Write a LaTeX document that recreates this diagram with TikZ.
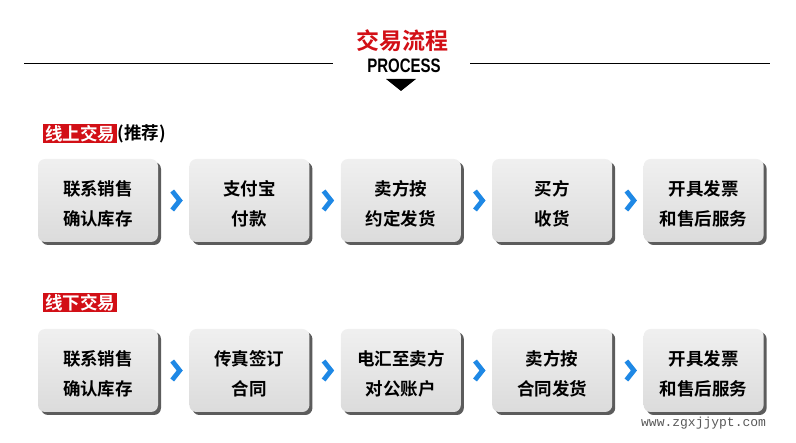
\documentclass[tikz,border=0pt]{standalone}
\usepackage{fontspec}
\usepackage{graphicx}
\setmainfont{Noto Sans CJK SC}[BoldFont={Noto Sans CJK SC Bold}]
\newfontfamily\procfont{Liberation Sans Bold}[FakeStretch=0.77]
\newfontfamily\webfont{Liberation Mono}
\usetikzlibrary{positioning,calc,shadows}
\definecolor{tradered}{HTML}{D20F16}
\definecolor{chevblue}{HTML}{1E88E5}
\tikzset{stepbox/.style={rounded corners=7pt, top color=black!6, bottom color=black!14,
    minimum width=120pt, minimum height=83pt, align=center, inner sep=0pt, text height=52pt,
    font=\bfseries\fontsize{17.5}{30}\selectfont,
    drop shadow={shadow xshift=3pt, shadow yshift=-3pt, fill=black!75, opacity=0.85}},
  tag/.style={fill=tradered, text=white, inner xsep=2pt, inner ysep=0pt, minimum height=19pt,
    font=\bfseries\fontsize{17.5}{19}\selectfont},
  chev/.style={draw=chevblue, line width=4.8pt, line join=miter}}

\begin{document}
\begin{tikzpicture}[x=1pt,y=-1pt, node distance=31pt]
    \useasboundingbox (0,0) rectangle (796,443);
    % heading
    \node[text=tradered, font=\bfseries\fontsize{23}{23}\selectfont] (title) at (402,41) {交易流程};
    \node[font=\procfont\fontsize{19.5}{20}\selectfont] (proc) at (404,66) {PROCESS};
    \coordinate (l1) at (24,64);  \coordinate (l2) at (333,64);
    \coordinate (r1) at (470,64); \coordinate (r2) at (770,64);
    \draw[line width=1pt] (l1) -- (l2);
    \draw[line width=1pt] (r1) -- (r2);
    \fill (386,79) -- (416,79) -- (401,91) -- cycle;

    % online
    \node[tag, anchor=west] (on) at (43,134) {线上交易};
    \node[anchor=west, inner xsep=0pt, font=\bfseries\fontsize{17.5}{19}\selectfont] (onx) at (on.east) {(推荐)};
    \node[stepbox]              (a1) at (98,200.5) {联系销售\\确认库存};
    \node[stepbox,right=of a1]  (a2) {支付宝\\付款};
    \node[stepbox,right=of a2]  (a3) {卖方按\\约定发货};
    \node[stepbox,right=of a3]  (a4) {买方\\收货};
    \node[stepbox,right=of a4]  (a5) {开具发票\\和售后服务};

    % offline
    \node[tag, anchor=west] (off) at (43,303) {线下交易};
    \node[stepbox]              (b1) at (98,370.5) {联系销售\\确认库存};
    \node[stepbox,right=of b1]  (b2) {传真签订\\合同};
    \node[stepbox,right=of b2]  (b3) {电汇至卖方\\对公账户};
    \node[stepbox,right=of b3]  (b4) {卖方按\\合同发货};
    \node[stepbox,right=of b4]  (b5) {开具发票\\和售后服务};

    \foreach \p/\q in {a1/a2,a2/a3,a3/a4,a4/a5,b1/b2,b2/b3,b3/b4,b4/b5}
        \draw[chev] ($(\p.east)!0.5!(\q.west)+(-1.5,-9.5)$) -- ++(7.5,9.5) -- ++(-7.5,9.5);

    \node[below=1pt of b5, text=black!65, font=\webfont\fontsize{13}{13}\selectfont] (web) {www.zgxjjypt.com};
\end{tikzpicture}
\end{document}
